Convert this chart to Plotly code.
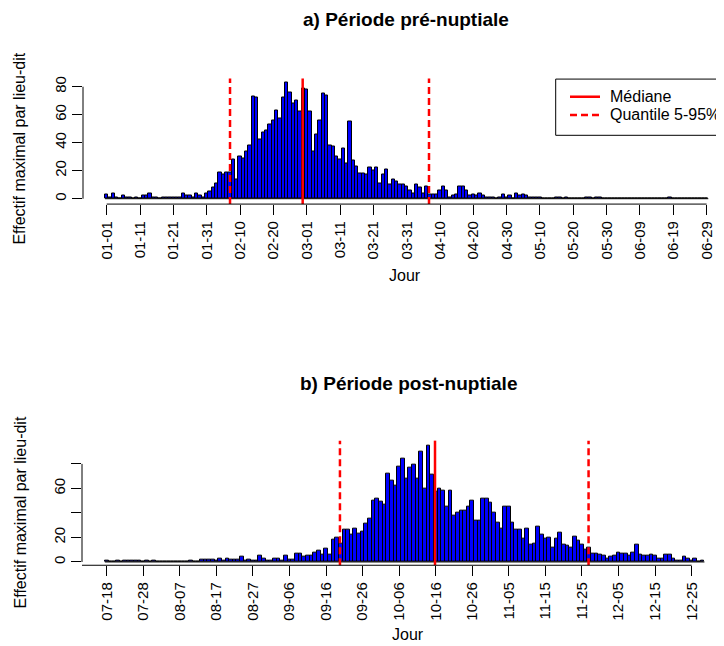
import plotly.graph_objects as go

# ---------------- data ----------------
pre_tick_labels = ["01-01", "01-11", "01-21", "01-31", "02-10", "02-20", "03-01",
                   "03-11", "03-21", "03-31", "04-10", "04-20", "04-30", "05-10",
                   "05-20", "05-30", "06-09", "06-19", "06-29"]
pre_values = [3, 1, 4, 1, 0, 2, 1, 1, 0, 1,
              0, 2, 2, 4, 1, 1, 0, 1, 1, 1,
              1, 1, 1, 4, 2, 2, 1, 4, 2, 1,
              4, 5, 8, 11, 19, 17, 19, 19, 28, 14,
              30, 29, 34, 38, 73, 72, 42, 47, 49, 53,
              56, 63, 57, 72, 83, 76, 68, 70, 62, 79,
              78, 62, 34, 46, 56, 75, 74, 38, 37, 30,
              28, 36, 25, 55, 27, 23, 18, 18, 17, 22,
              20, 22, 11, 17, 21, 10, 14, 12, 10, 10,
              9, 6, 4, 10, 8, 4, 9, 3, 3, 3,
              6, 9, 6, 1, 2, 3, 9, 9, 6, 2,
              3, 2, 4, 2, 1, 1, 1, 0, 1, 3,
              1, 2, 0, 4, 2, 3, 2, 1, 1, 1,
              1, 0, 0, 0, 0, 1, 1, 0, 1, 0,
              0, 0, 0, 0, 1, 1, 0, 1, 1, 0,
              0, 0, 0, 0, 0, 0, 0, 0, 0, 0,
              0, 0, 0, 0, 0, 0, 0, 0, 0, 1,
              0, 0, 0, 0, 0, 0, 0, 0, 0, 0,
              0]
pre_median = 58.8
pre_quantiles = [37.0, 96.7]

post_tick_labels = ["07-18", "07-28", "08-07", "08-17", "08-27", "09-06", "09-16",
                    "09-26", "10-06", "10-16", "10-26", "11-05", "11-15", "11-25",
                    "12-05", "12-15", "12-25"]
post_values = [1, 0, 0, 1, 0, 1, 1, 1, 1, 1,
               0, 1, 0, 1, 0, 0, 0, 0, 0, 0,
               0, 0, 0, 1, 0, 0, 2, 2, 2, 2,
               1, 3, 1, 3, 2, 2, 2, 4, 1, 2,
               1, 1, 5, 3, 1, 1, 3, 3, 1, 5,
               2, 2, 7, 7, 4, 5, 5, 8, 9, 6,
               11, 6, 18, 20, 15, 26, 26, 22, 27, 23,
               25, 31, 35, 50, 52, 49, 47, 72, 66, 62,
               78, 84, 68, 77, 79, 68, 90, 60, 95, 71,
               57, 60, 58, 45, 58, 38, 40, 42, 42, 45,
               50, 34, 34, 52, 52, 48, 40, 32, 27, 45,
               45, 32, 26, 26, 19, 27, 14, 15, 29, 22,
               19, 20, 12, 19, 24, 14, 13, 12, 21, 17,
               14, 10, 12, 7, 7, 6, 5, 3, 4, 5,
               8, 7, 7, 5, 8, 14, 6, 5, 5, 6,
               5, 3, 3, 6, 6, 3, 1, 1, 4, 3,
               1, 3, 0, 1]
post_median = 89.8
post_quantiles = [63.8, 131.8]

y_ticks = [0, 20, 40, 60, 80]
pre_y_labels = ["0", "20", "40", "60", "80"]
post_y_labels = ["0", "20", "", "60", ""]

# ---------------- layout helpers ----------------
# The page body has an 8 px margin, so the figure is sized to fill the rest
# of the 724x646 window; all pixel positions below are window pixels.
OFF = 8
SCREEN_W, SCREEN_H = 724, 646
W, H = SCREEN_W - OFF, SCREEN_H - OFF


def px(x):
    return (x - OFF) / W


def py(y):
    return 1 - (y - OFF) / H


FONT = "Liberation Sans, Arial, sans-serif"
BLUE = "#0000FF"
RED = "#FF0000"

# pixel geometry of the two panels (window pixels)
top = dict(left=83, x0=106.7, dpx=3.333, ytop=76.7, ybot=202.7, y0=197.3, upx=1.404)
bot = dict(left=82, x0=106.7, dpx=3.656, ytop=440.0, ybot=565.0, y0=561.7, upx=1.23)

fig = go.Figure()
fig.add_trace(go.Bar(x=list(range(len(pre_values))), y=pre_values, width=1,
                     marker=dict(color=BLUE, line=dict(color="black", width=1)),
                     xaxis="x", yaxis="y", showlegend=False, hoverinfo="x+y"))
fig.add_trace(go.Bar(x=list(range(len(post_values))), y=post_values, width=1,
                     marker=dict(color=BLUE, line=dict(color="black", width=1)),
                     xaxis="x2", yaxis="y2", showlegend=False, hoverinfo="x+y"))


def xaxis_cfg(g, n_ticks, labels, anchor):
    return dict(domain=[px(g["left"]), 1],
                range=[(g["left"] - g["x0"]) / g["dpx"], (SCREEN_W - g["x0"]) / g["dpx"]],
                tickmode="array", tickvals=[10 * i for i in range(n_ticks)],
                ticktext=labels, tickangle=-90, ticks="outside", ticklen=10,
                tickwidth=1, tickcolor="black", showgrid=False, zeroline=False,
                showline=False, anchor=anchor,
                tickfont=dict(family=FONT, size=15, color="black"))


def yaxis_cfg(g, labels, anchor):
    return dict(domain=[py(g["ybot"]), py(g["ytop"])],
                range=[-(g["ybot"] - g["y0"]) / g["upx"], (g["y0"] - g["ytop"]) / g["upx"]],
                tickmode="array", tickvals=y_ticks, ticktext=labels, tickangle=-90,
                ticks="outside", ticklen=10, tickwidth=1, tickcolor="black",
                showgrid=False, zeroline=False, showline=False, anchor=anchor,
                tickfont=dict(family=FONT, size=15, color="black"))


shapes = []
annotations = []


def panel_shapes(xr, yr, values, median, quantiles):
    # y axis line (0 .. 80)
    shapes.append(dict(type="line", xref=xr + " domain", yref=yr, x0=0, x1=0, y0=0, y1=80,
                       line=dict(color="black", width=1)))
    # zero-height bar baseline
    shapes.append(dict(type="line", xref=xr, yref=yr, x0=-0.5, x1=len(values) - 0.5,
                       y0=0, y1=0, line=dict(color="black", width=1)))
    # median and quantiles
    shapes.append(dict(type="line", xref=xr, yref=yr + " domain", x0=median, x1=median,
                       y0=0, y1=1, line=dict(color=RED, width=2.5)))
    for q in quantiles:
        shapes.append(dict(type="line", xref=xr, yref=yr + " domain", x0=q, x1=q,
                           y0=0, y1=1, line=dict(color=RED, width=2.5, dash="7px,4px")))


panel_shapes("x", "y", pre_values, pre_median, pre_quantiles)
panel_shapes("x2", "y2", post_values, post_median, post_quantiles)
# x axis lines
shapes.append(dict(type="line", xref="x", yref="y domain", x0=0,
                   x1=10 * (len(pre_tick_labels) - 1), y0=0, y1=0,
                   line=dict(color="black", width=1)))
shapes.append(dict(type="line", xref="paper", yref="y2 domain",
                   x0=px(bot["left"]),
                   x1=px(bot["x0"] + 10 * (len(post_tick_labels) - 1) * bot["dpx"]),
                   y0=0, y1=0, line=dict(color="black", width=1)))

# legend box (top panel, cut at the right edge)
shapes.append(dict(type="rect", xref="paper", yref="paper", x0=px(555.7), x1=px(760),
                   y0=py(133.7), y1=py(77.3), line=dict(color="black", width=1),
                   fillcolor="white", layer="above"))
shapes.append(dict(type="line", xref="paper", yref="paper", x0=px(570), x1=px(600),
                   y0=py(95), y1=py(95), line=dict(color=RED, width=2.5)))
shapes.append(dict(type="line", xref="paper", yref="paper", x0=px(570), x1=px(600),
                   y0=py(113.3), y1=py(113.3), line=dict(color=RED, width=2.5, dash="7px,4px")))
for txt, yy in [("Médiane", 95), ("Quantile 5-95%", 113.3)]:
    annotations.append(dict(text=txt, xref="paper", yref="paper", x=px(609), y=py(yy),
                            xanchor="left", yanchor="middle", showarrow=False,
                            borderpad=0, font=dict(family=FONT, size=16, color="black")))

# titles
for txt, xx, yy in [("<b>a) Période pré-nuptiale</b>", 406, 18),
                    ("<b>b) Période post-nuptiale</b>", 408, 383)]:
    annotations.append(dict(text=txt, xref="paper", yref="paper", x=px(xx), y=py(yy),
                            xanchor="center", yanchor="middle", showarrow=False,
                            font=dict(family=FONT, size=19, color="black")))
for xx, yy in [(405, 274), (408, 634)]:
    annotations.append(dict(text="Jour", xref="paper", yref="paper", x=px(xx), y=py(yy),
                            xanchor="center", yanchor="middle", showarrow=False,
                            font=dict(family=FONT, size=16, color="black")))
for yy in [147, 512]:
    annotations.append(dict(text="Effectif maximal par lieu-dit", xref="paper", yref="paper",
                            x=px(20), y=py(yy), xanchor="center", yanchor="middle",
                            textangle=-90, showarrow=False,
                            font=dict(family=FONT, size=16, color="black")))

fig.update_layout(
    width=W, height=H, margin=dict(l=0, r=0, t=0, b=0),
    paper_bgcolor="white", plot_bgcolor="white", bargap=0,
    xaxis=xaxis_cfg(top, len(pre_tick_labels), pre_tick_labels, "y"),
    yaxis=yaxis_cfg(top, pre_y_labels, "x"),
    xaxis2=xaxis_cfg(bot, len(post_tick_labels), post_tick_labels, "y2"),
    yaxis2=yaxis_cfg(bot, post_y_labels, "x2"),
    shapes=shapes, annotations=annotations, showlegend=False,
    font=dict(family=FONT, color="black"),
)

fig.write_html("out.html")
